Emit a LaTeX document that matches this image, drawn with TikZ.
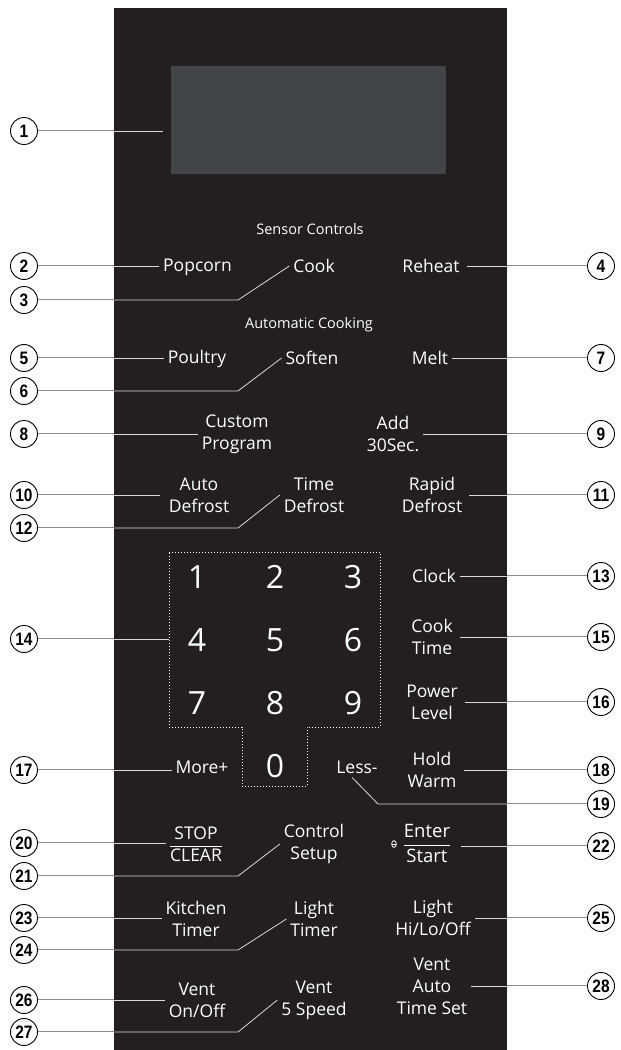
\documentclass[tikz,border=0pt]{standalone}
\usepackage{fontspec}
\setmainfont{Open Sans}
\newfontfamily\numfont[FakeStretch=0.86]{Liberation Sans}
\setlength\tabcolsep{0pt}
\setlength\arrayrulewidth{0.8pt}
\definecolor{panelc}{HTML}{231F20}
\definecolor{dispc}{HTML}{414547}
\definecolor{linein}{HTML}{D8D8D8}
\definecolor{lineout}{HTML}{8C8C8C}
\tikzset{
  circ/.style={circle, draw=black, line width=0.9pt, fill=white, minimum size=27pt, inner sep=0pt,
    font=\numfont\bfseries\fontsize{18}{18}\selectfont},
  lab/.style={text=white, align=center, inner sep=1pt, outer sep=3pt, font=\fontsize{17.5}{22}\selectfont},
  head/.style={text=white, inner sep=1pt, font=\fontsize{14.5}{16}\selectfont},
  digit/.style={text=white, inner sep=0pt, font=\fontsize{32}{32}\selectfont},
  outerline/.style={draw=lineout, double=white, double distance=0.8pt, line width=0.75pt},
  innerline/.style={draw=linein, line width=0.8pt},
  keyline/.style={draw=white, line width=0.9pt, dash pattern=on 1pt off 2pt},
}
\begin{document}
\begin{tikzpicture}[x=1pt,y=-1pt]
\useasboundingbox (0,0) rectangle (621,1050);
% panel and display
\node[fill=panelc, minimum width=393pt, minimum height=1042pt, inner sep=0pt, outer sep=0pt] (panel) at (310.5,529) {};
\node[fill=dispc, minimum width=275pt, minimum height=108pt, inner sep=0pt, outer sep=8pt] (display) at (308.5,120) {};
% keypad
\node[minimum width=211pt, minimum height=175pt, inner sep=0pt, outer sep=0pt] (keypad) at (274.5,639.5) {};
\draw[keyline] (169,552) -- (380,552) -- (380,727) -- (307,727) -- (307,786) -- (242,786) -- (242,727) -- (169,727) -- cycle;
\node[digit] (k1) at (197,577) {1};
\node[digit] (k2) at (275,577) {2};
\node[digit] (k3) at (353,577) {3};
\node[digit] (k4) at (197,640) {4};
\node[digit] (k5) at (275,640) {5};
\node[digit] (k6) at (353,640) {6};
\node[digit] (k7) at (197,703) {7};
\node[digit] (k8) at (275,703) {8};
\node[digit] (k9) at (353,703) {9};
\node[digit] (k0) at (275,766) {0};
% headers
\node[head] (sensor) at (310,229) {Sensor Controls};
\node[head] (automatic) at (309,325) {Automatic Cooking};
% labels
\node[lab] (popcorn) at (197.5,267) {Popcorn};
\node[lab] (cook) at (314,266) {Cook};
\node[lab, outer sep=6pt] (reheat) at (431,266) {Reheat};
\node[lab] (poultry) at (197,359) {Poultry};
\node[lab] (soften) at (312,358) {Soften};
\node[lab] (melt) at (430,358) {Melt};
\node[lab] (custom) at (237,434) {Custom\\Program};
\node[lab] (add) at (393,434) {Add\\30Sec.};
\node[lab, outer sep=8pt] (autodef) at (199,495) {Auto\\Defrost};
\node[lab] (timedef) at (314,495) {Time\\Defrost};
\node[lab, outer sep=6pt] (rapid) at (432,495) {Rapid\\Defrost};
\node[lab] (clock) at (434,576) {Clock};
\node[lab, outer sep=6pt] (cooktime) at (432,637) {Cook\\Time};
\node[lab, outer sep=6pt] (power) at (432,702) {Power\\Level};
\node[lab] (more) at (202,767) {More+};
\node[lab] (less) at (357,767) {Less-};
\node[lab, outer sep=6pt] (hold) at (432,770) {Hold\\Warm};
\node[lab] (stop) at (196,846) {\begin{tabular}{c}STOP\\\hline CLEAR\end{tabular}};
\node[lab] (control) at (314,844) {Control\\Setup};
\node[lab, outer sep=10pt, font=\fontsize{18.5}{24}\selectfont] (enter) at (427,845) {\begin{tabular}{c}Enter\\\hline Start\end{tabular}};
\node[lab] (kitchen) at (196,919) {Kitchen\\Timer};
\node[lab] (lighttimer) at (314,919) {Light\\Timer};
\node[lab] (lighthi) at (433,918) {Light\\Hi/Lo/Off};
\node[lab] (ventonoff) at (197,1000) {Vent\\On/Off};
\node[lab] (vent5) at (314,1000) {Vent\\5 Speed};
\node[lab] (ventauto) at (432,986) {Vent\\Auto\\Time Set};
% lock glyph
\draw[white, line width=0.8pt] (394,844) ellipse (2.3 and 3.4);
\draw[white, line width=0.8pt] (391.7,844) -- (396.3,844);
% circle positions
\foreach \n/\x/\y in {1/24/131, 2/24/266, 3/24/300, 4/601/266, 5/24/358, 6/24/391, 7/601/358,
  8/24/434, 9/601/434, 10/24/495, 11/601/495, 12/24/528, 13/601/576, 14/24/639, 15/601/637,
  16/601/702, 17/24/770, 18/601/770, 19/601/804, 20/24/843, 21/24/876, 22/601/846, 23/24/918,
  24/24/950, 25/601/918, 26/24/1000, 27/24/1032, 28/601/986}
  \coordinate (p\n) at (\x,\y);
\coordinate (bend) at (238,0);
\coordinate (b19) at (378,804);
% connectors: left straight
\foreach \c/\l in {1/display, 2/popcorn, 5/poultry, 8/custom, 10/autodef, 14/keypad, 17/more, 20/stop, 23/kitchen, 26/ventonoff} {
  \draw[outerline] (p\c) -- (p\c -| panel.west);
  \draw[innerline] (p\c -| panel.west) -- (p\c -| \l.west);
}
% left diagonal
\foreach \c/\l in {3/cook, 6/soften, 12/timedef, 21/control, 24/lighttimer, 27/vent5} {
  \draw[outerline] (p\c) -- (p\c -| panel.west);
  \draw[innerline] (p\c -| panel.west) -- (p\c -| bend) -- (\l.west);
}
% right straight
\foreach \c/\l in {4/reheat, 7/melt, 9/add, 11/rapid, 13/clock, 15/cooktime, 16/power, 18/hold, 22/enter, 25/lighthi, 28/ventauto} {
  \draw[outerline] (p\c) -- (p\c -| panel.east);
  \draw[innerline] (p\c -| panel.east) -- (p\c -| \l.east);
}
% 19
\draw[outerline] (p19) -- (p19 -| panel.east);
\draw[innerline] (p19 -| panel.east) -- (b19) -- ([xshift=-5pt]less.south);
% circle nodes on top
\foreach \n in {1,...,28}
  \node[circ] (c\n) at (p\n) {\n};
\end{tikzpicture}
\end{document}
